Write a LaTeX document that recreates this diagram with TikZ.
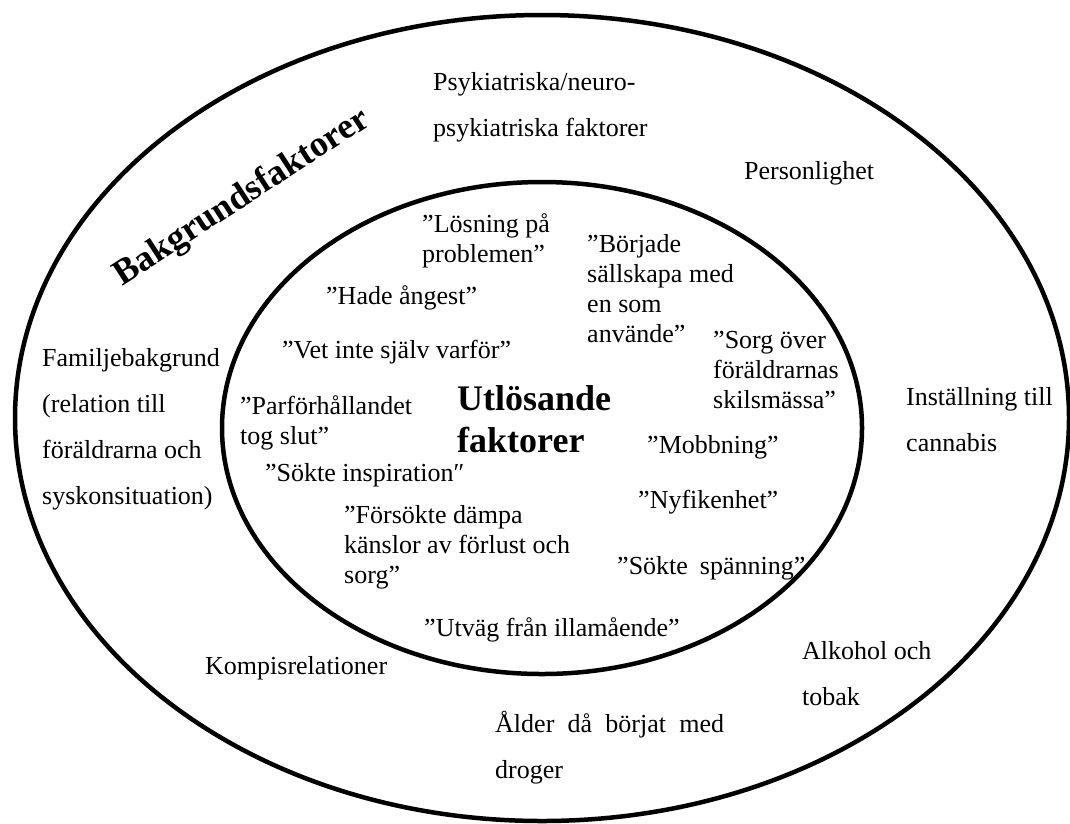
\documentclass[tikz,border=0pt]{standalone}
\usepackage{fontspec}
\setmainfont{Liberation Serif}
\usepackage{tikz}
\usetikzlibrary{calc}

\begin{document}
\begin{tikzpicture}[x=1pt,y=-1pt,
    ring/.style={line width=4.5pt},
    outertext/.style={anchor=west,inner sep=0pt,align=left,font=\fontsize{26}{46}\selectfont},
    innertext/.style={anchor=west,inner sep=0pt,align=left,font=\fontsize{26}{30}\selectfont},
    heading/.style={inner sep=0pt,align=left,font=\fontsize{36}{42}\selectfont\bfseries}]
      \useasboundingbox (0,0) rectangle (1070,823);
      \coordinate (O) at (542,418);
      \coordinate (I) at (542,428);
      \draw[ring] (O) ellipse [x radius=527, y radius=403];
      \draw[ring] (I) ellipse [x radius=320, y radius=246];
      \node[heading,rotate=33] (bakgrund) at (242,198) {Bakgrundsfaktorer};
      \node[heading,anchor=west] (utlosande) at (457,419) {Utlösande\\faktorer};
      \node[outertext] (psyk) at (433,107) {Psykiatriska/neuro-\\psykiatriska faktorer};
      \node[outertext] (person) at (744,173) {Personlighet};
      \node[outertext] (familj) at (42,429) {Familjebakgrund\\(relation till\\föräldrarna och\\syskonsituation)};
      \node[outertext] (installning) at (906,420) {Inställning till\\cannabis};
      \node[outertext] (kompis) at (205,668) {Kompisrelationer};
      \node[outertext] (alkohol) at (802,674) {Alkohol och\\tobak};
      \node[outertext] (alder) at (495,748) {\makebox[229pt][s]{Ålder då börjat med}\\droger};
      \node[innertext] (losning) at (422,241) {”Lösning på\\problemen”};
      \node[innertext] (angest) at (326,298) {”Hade ångest”};
      \node[innertext] (varfor) at (282,352) {”Vet inte själv varför”};
      \node[innertext] (parfor) at (240,423) {”Parförhållandet\\tog slut”};
      \node[innertext] (borjade) at (587,289) {”Började\\sällskapa med\\en som\\använde”};
      \node[innertext] (sorg) at (713,370) {”Sorg över\\föräldrarnas\\skilsmässa”};
      \node[innertext] (mobbning) at (647,447) {”Mobbning”};
      \node[innertext] (inspiration) at (265,475) {”Sökte inspiration″};
      \node[innertext] (nyfiken) at (638,502) {”Nyfikenhet”};
      \node[innertext] (dampa) at (344,547) {”Försökte dämpa\\känslor av förlust och\\sorg”};
      \node[innertext] (spanning) at (617,568) {”Sökte\hspace{12pt}spänning”};
      \node[innertext] (utvag) at (424,630) {”Utväg från illamående”};
   \end{tikzpicture}
\end{document}
